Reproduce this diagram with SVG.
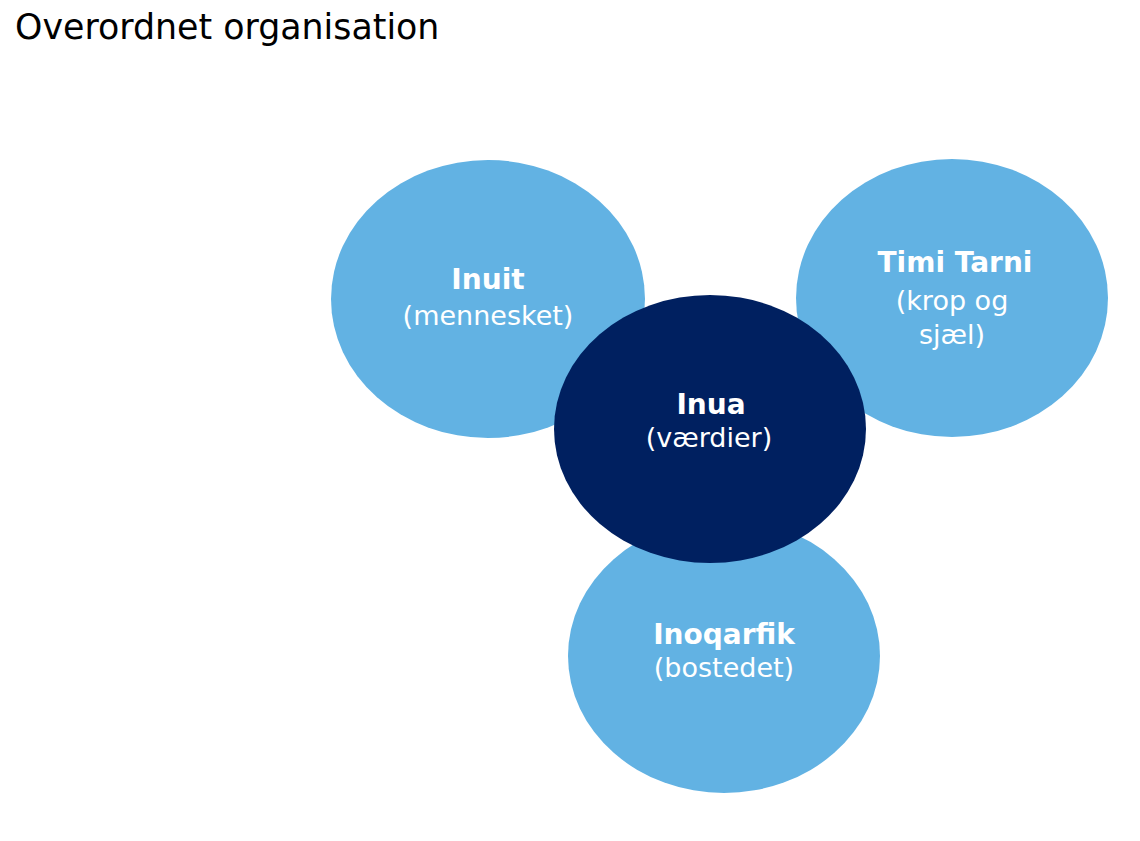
<svg xmlns="http://www.w3.org/2000/svg" width="1140" height="841" viewBox="0 0 1140 841">
<style>
.light{fill:#62b2e3}
.dark{fill:#002060}
.t{font-family:"DejaVu Sans",Verdana,sans-serif;font-size:27px;fill:#ffffff;text-anchor:middle}
.b{font-weight:bold;font-size:28px}
.title{font-family:"DejaVu Sans",Verdana,sans-serif;font-size:34.8px;fill:#000000}
</style>
<rect width="1140" height="841" fill="#ffffff"/>
<text class="title" x="15" y="39">Overordnet organisation</text>
<g id="connectors"></g>
<g id="inuit">
<ellipse class="light" cx="488" cy="299" rx="157" ry="139"/>
<text class="t b" x="488" y="289">Inuit</text>
<text class="t" x="488" y="325">(mennesket)</text>
</g>
<g id="timi-tarni">
<ellipse class="light" cx="952" cy="298" rx="156" ry="139"/>
<text class="t b" x="955" y="272">Timi Tarni</text>
<text class="t" x="952" y="310">(krop og</text>
<text class="t" x="952" y="344">sjæl)</text>
</g>
<g id="inoqarfik">
<ellipse class="light" cx="724" cy="656" rx="156" ry="137"/>
<text class="t b" x="724" y="644">Inoqarfik</text>
<text class="t" x="724" y="677">(bostedet)</text>
</g>
<g id="inua">
<ellipse class="dark" cx="710" cy="429" rx="156" ry="134"/>
<text class="t b" x="711" y="414">Inua</text>
<text class="t" x="709" y="447">(værdier)</text>
</g>
</svg>
